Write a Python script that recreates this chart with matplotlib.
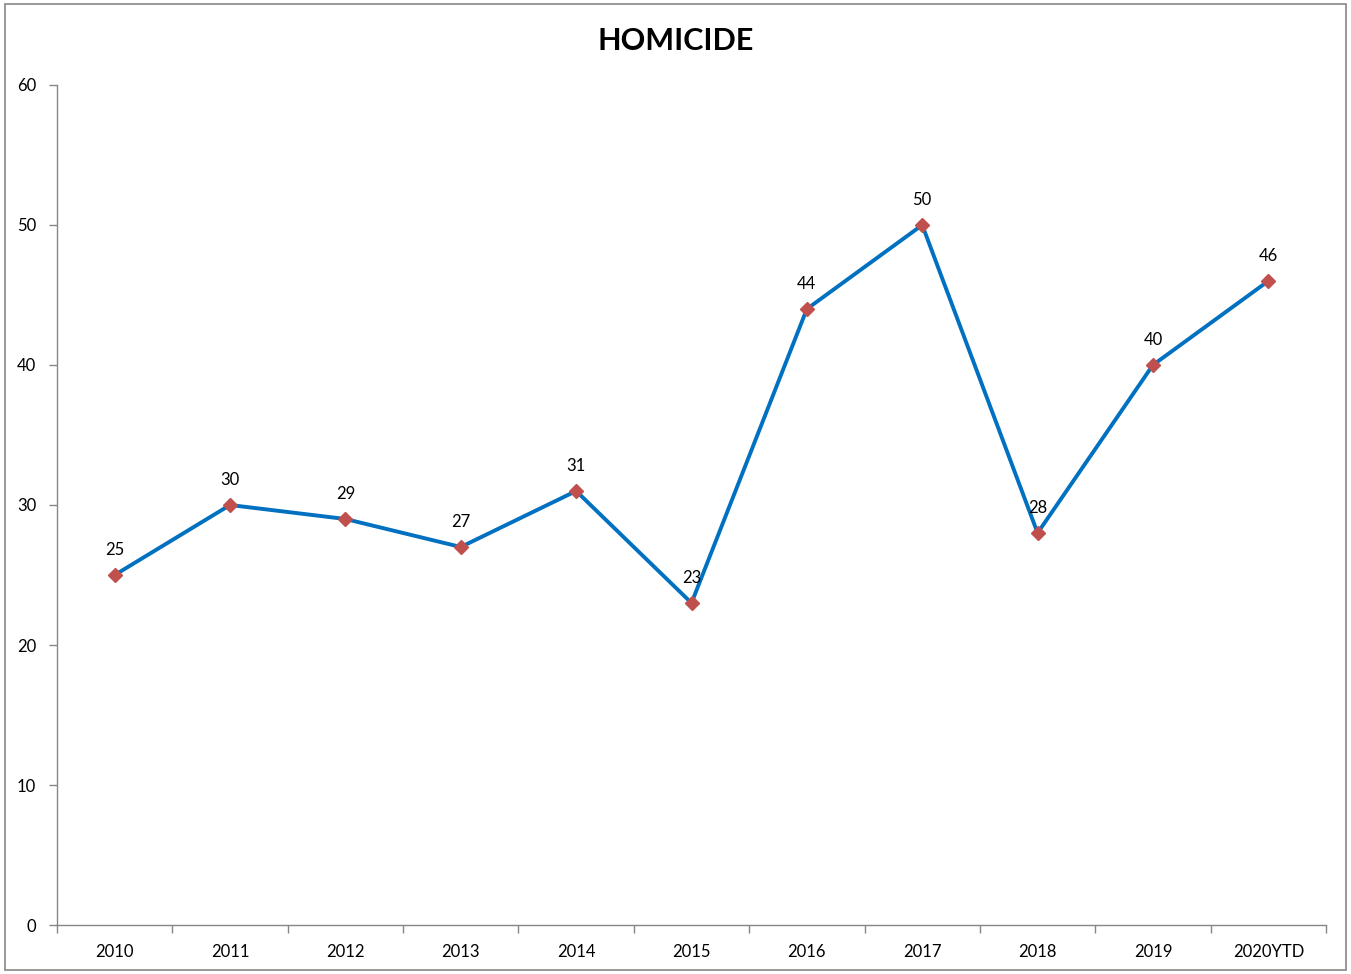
import matplotlib
matplotlib.use("Agg")
import matplotlib.pyplot as plt
from matplotlib.patches import Rectangle
from matplotlib.ticker import FixedLocator, NullFormatter

categories = ["2010", "2011", "2012", "2013", "2014", "2015", "2016", "2017", "2018", "2019", "2020YTD"]
values = [25, 30, 29, 27, 31, 23, 44, 50, 28, 40, 46]
y_ticks = [0, 10, 20, 30, 40, 50, 60]

plt.rcParams['font.family'] = ['Lato', 'DejaVu Sans']

fig = plt.figure(figsize=(13.51, 9.74), dpi=100)
ax = fig.add_axes([57/1351, 49/974, (1326-57)/1351, (925-85)/974])

x = list(range(len(categories)))
ax.plot(x, values, color="#0070C0", linewidth=2.8, marker="D", markersize=7.5,
        markerfacecolor="#C0504D", markeredgecolor="#C0504D", zorder=3)
for xi, v in zip(x, values):
    ax.annotate(str(v), (xi, v), xytext=(0, 12.5), textcoords="offset points",
                ha="center", va="bottom", fontsize=12, color="black")

ax.set_xlim(-0.5, len(categories) - 0.5)
ax.set_ylim(0, 60)
ax.set_yticks(y_ticks)
ax.tick_params(axis='y', labelsize=12, length=6, width=1, color="#868686", pad=9)
ax.xaxis.set_major_locator(FixedLocator([i - 0.5 for i in range(len(categories) + 1)]))
ax.xaxis.set_major_formatter(NullFormatter())
ax.xaxis.set_minor_locator(FixedLocator(x))
ax.set_xticklabels(categories, minor=True)
ax.tick_params(axis='x', which='major', length=6, width=1, color="#868686")
ax.tick_params(axis='x', which='minor', length=0, labelsize=12, pad=14)
for s in ["top", "right"]:
    ax.spines[s].set_visible(False)
for s in ["left", "bottom"]:
    ax.spines[s].set_color("#868686")
    ax.spines[s].set_linewidth(1)

fig.text(676/1351, 1 - 41/974, "HOMICIDE", ha="center", va="center",
         fontsize=22, fontweight="bold")

fig.patches.append(Rectangle((5/1351, 4/974), (1346-5)/1351, (970-4)/974,
                             transform=fig.transFigure, fill=False,
                             edgecolor="#868686", linewidth=1.2))

fig.savefig("out.png", dpi=100)
